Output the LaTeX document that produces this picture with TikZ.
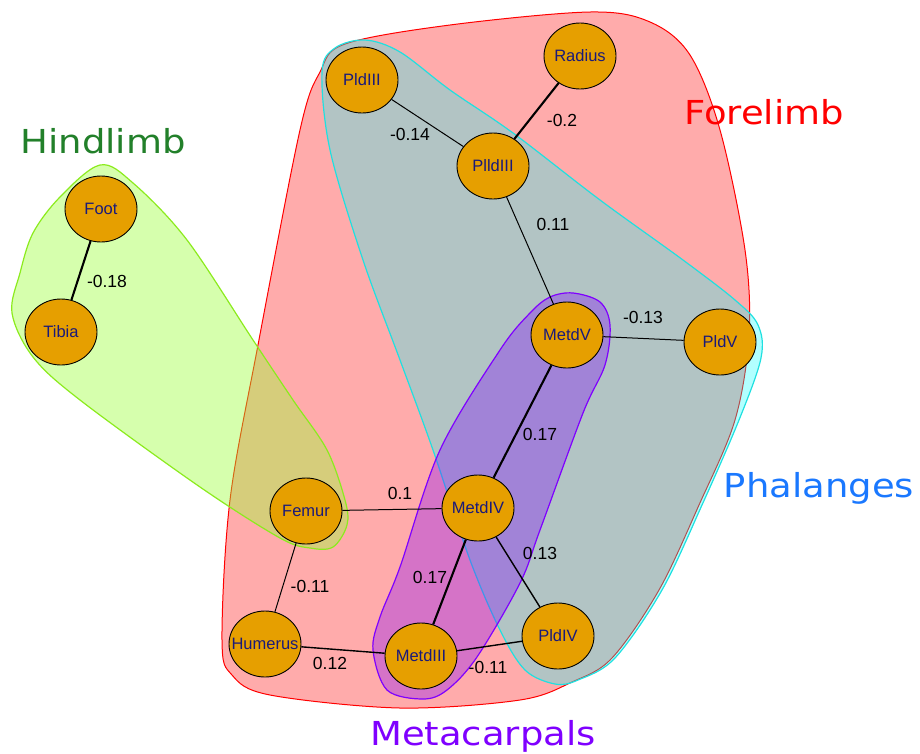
\documentclass[tikz,border=0pt]{standalone}
\usepackage{fontspec}
\setmainfont{Liberation Sans}
\newfontfamily\grpfont[FakeStretch=1.12]{DejaVu Sans}
\usetikzlibrary{shapes.geometric}

\definecolor{bonefill}{HTML}{E69F00}
\definecolor{bonetext}{HTML}{1A1A7A}
\definecolor{hindtext}{HTML}{22802A}
\definecolor{foretext}{HTML}{FF0000}
\definecolor{phaltext}{HTML}{1A78FF}
\definecolor{metatext}{HTML}{7F00FF}
\definecolor{forefill}{RGB}{255,0,0}
\definecolor{phalfill}{RGB}{0,255,255}
\definecolor{hindfill}{RGB}{153,255,51}
\definecolor{hindedge}{HTML}{8CEB1E}
\definecolor{phaledge}{HTML}{20E0E0}

\tikzset{
  bone/.style={ellipse, draw=black, line width=0.9pt, fill=bonefill,
    minimum width=72pt, minimum height=66pt, inner ysep=0pt, inner xsep=-12pt,
    text=bonetext, font=\fontsize{16.5}{16.5}\selectfont},
  weight/.style={font=\fontsize{17.5}{18}\selectfont, text=black, inner sep=0pt},
  link/.style={line width=1pt},
  midlink/.style={line width=1.4pt},
  strong/.style={line width=2.1pt},
  grouplabel/.style={anchor=base, inner sep=0pt, font=\grpfont\fontsize{33}{33}\selectfont},
  forehull/.style={fill=forefill, fill opacity=0.33, draw=forefill, draw opacity=1, line width=1pt},
  phalhull/.style={fill=phalfill, fill opacity=0.3, draw=phaledge, draw opacity=1, line width=1.2pt},
  metahull/.style={fill=metatext, fill opacity=0.33, draw=metatext, draw opacity=1, line width=1.2pt},
  hindhull/.style={fill=hindfill, fill opacity=0.4, draw=hindedge, draw opacity=1, line width=1.2pt},
}

\begin{document}
\begin{tikzpicture}[x=1pt, y=-1pt]
\useasboundingbox (0,0) rectangle (920,753);

% group hulls
\filldraw[forehull] plot[smooth cycle, tension=0.55] coordinates {
  (222,640) (230,500) (258,345) (300,130) (320,72) (345,44) (450,25)
  (590,12) (650,22) (690,55) (720,130) (745,250) (749,335) (735,420)
  (699,505) (659,590) (612,658) (572,682) (520,700) (400,708)
  (270,695) (232,675)};

\filldraw[phalhull] plot[smooth cycle, tension=0.55] coordinates {
  (322,72) (335,48) (365,40) (400,52) (450,90) (513,133) (600,200)
  (683,260) (735,300) (758,325) (761,358) (739,420) (702,505)
  (662,590) (615,658) (578,680) (555,684) (525,670) (500,630) (470,560)
  (433,450) (400,360) (363,260) (330,150)};

\filldraw[metahull] plot[smooth cycle, tension=0.55] coordinates {
  (573,293) (600,302) (610,325) (605,365) (583,413) (540,530) (520,583)
  (477,657) (447,690) (423,699) (387,690) (373,650) (380,617) (400,567)
  (440,450) (500,350) (530,313) (550,297)};

\filldraw[hindhull] plot[smooth cycle, tension=0.55] coordinates {
  (100,165) (133,183) (187,240) (253,340) (293,400) (327,450) (345,500)
  (347,525) (333,547) (310,548) (280,538) (200,487) (80,400) (33,357)
  (12,313) (20,273) (33,233) (60,197)};

% group labels
\node[grouplabel, text=hindtext] (lhind) at (103,153) {Hindlimb};
\node[grouplabel, text=foretext] (lfore) at (764,124) {Forelimb};
\node[grouplabel, text=phaltext] (lphal) at (819,497) {Phalanges};
\node[grouplabel, text=metatext] (lmeta) at (483,745) {Metacarpals};

% bones
\node[bone] (radius)  at (580,56)  {Radius};
\node[bone] (pd3)     at (362,80)  {PldIII};
\node[bone] (pdd3)    at (493,166) {PlldIII};
\node[bone] (foot)    at (101,209) {Foot};
\node[bone] (tibia)   at (61,332)  {Tibia};
\node[bone] (metd5)   at (567,335) {MetdV};
\node[bone] (pd5)     at (720,342) {PldV};
\node[bone] (femur)   at (306,511) {Femur};
\node[bone] (metd4)   at (478,508) {MetdIV};
\node[bone] (humerus) at (265,644) {Humerus};
\node[bone] (metd3)   at (421,656) {MetdIII};
\node[bone] (pd4)     at (558,636) {PldIV};

% correlations
\draw[strong]  (radius) -- (pdd3);
\draw[link]    (pd3) -- (pdd3);
\draw[link]    (pdd3) -- (metd5);
\draw[strong]  (foot) -- (tibia);
\draw[link]    (metd5) -- (pd5);
\draw[strong]  (metd5) -- (metd4);
\draw[link]    (femur) -- (metd4);
\draw[midlink] (metd4) -- (pd4);
\draw[strong]  (metd4) -- (metd3);
\draw[link]    (femur) -- (humerus);
\draw[midlink] (humerus) -- (metd3);
\draw[midlink] (metd3) -- (pd4);

% correlation values
\node[weight] (w1)  at (562,120) {-0.2};
\node[weight] (w2)  at (410,134) {-0.14};
\node[weight] (w3)  at (553,224) {0.11};
\node[weight] (w4)  at (107,281) {-0.18};
\node[weight] (w5)  at (643,317) {-0.13};
\node[weight] (w6)  at (540,434) {0.17};
\node[weight] (w7)  at (400,493) {0.1};
\node[weight] (w8)  at (540,553) {0.13};
\node[weight] (w9)  at (430,577) {0.17};
\node[weight] (w10) at (310,586) {-0.11};
\node[weight] (w11) at (330,663) {0.12};
\node[weight] (w12) at (488,667) {-0.11};
\end{tikzpicture}
\end{document}
